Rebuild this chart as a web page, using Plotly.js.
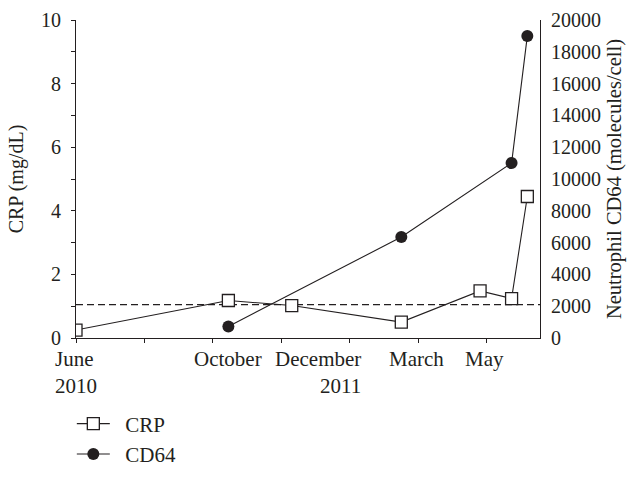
<!DOCTYPE html>
<html><head><meta charset="utf-8">
<script src="https://cdn.plot.ly/plotly-3.0.1.min.js"></script>
<style>html,body{margin:0;padding:0;background:#fff}#chart{width:628px;height:487px}</style>
</head><body><div id="chart"></div>
<script>
// x values: months elapsed since June 2010
const crpMonths = [0, 4.45, 6.3, 9.5, 11.8, 12.72, 13.18];
const crpValues = [0.25, 1.18, 1.02, 0.5, 1.48, 1.24, 4.45];
const cd64Months = [4.45, 9.5, 12.72, 13.18];
const cd64Values = [730, 6350, 11000, 19000];
const crpThreshold = 1.05;
const seriesNames = ['CRP', 'CD64'];
const monthLabels = ['June<br>2010', 'October', 'December<br>2011', 'March', 'May'];
const monthLabelAt = [0, 4.43, 8.37, 9.94, 11.93];
const xTickVals = [0, 2, 4, 6, 8, 10, 12];
const xRange = [0, 13.55];

const INK = '#231f20';
const FONT = 'Liberation Serif, Times New Roman, serif';
const GAP = '\u2002'; // visual gap between legend symbol and text

const traces = [
  {
    name: GAP + seriesNames[0], x: crpMonths, y: crpValues, yaxis: 'y', mode: 'lines+markers',
    line: {color: INK, width: 1.1},
    marker: {symbol: 'square', size: 12, color: '#ffffff', line: {color: INK, width: 1.3}}
  },
  {
    name: GAP + seriesNames[1], x: cd64Months, y: cd64Values, yaxis: 'y2', mode: 'lines+markers',
    line: {color: INK, width: 1.1},
    marker: {symbol: 'circle', size: 12, color: INK}
  }
];

const annotations = monthLabels.map((t, i) => ({
  text: t, x: monthLabelAt[i], xref: 'x', y: 0, yref: 'paper',
  xanchor: (t.indexOf('December') === 0 ? 'right' : 'center'),
  align: (t.indexOf('December') === 0 ? 'right' : 'left'),
  yanchor: 'top', yshift: -7, showarrow: false,
  font: {family: FONT, size: 21, color: INK}
}));

const layout = {
  width: 628, height: 487,
  margin: {l: 76, r: 88, t: 20, b: 125},
  paper_bgcolor: '#fff', plot_bgcolor: '#fff',
  font: {family: FONT, size: 20, color: INK},
  showlegend: true,
  legend: {x: -0.009, xanchor: 'left', y: -0.206, yanchor: 'top', itemwidth: 33,
           font: {family: FONT, size: 21, color: INK}, bgcolor: 'rgba(0,0,0,0)'},
  xaxis: {range: xRange, tickvals: xTickVals, showticklabels: false, ticks: 'outside',
          ticklen: 4, tickcolor: INK, showline: true, linecolor: INK, linewidth: 1,
          showgrid: false, zeroline: false, fixedrange: true},
  yaxis: {range: [0, 10], dtick: 2, ticks: 'outside', ticklen: 4, tickcolor: INK,
          minor: {dtick: 1, ticks: 'outside', ticklen: 4, tickcolor: INK, showgrid: false},
          showline: true, linecolor: INK, linewidth: 1, showgrid: false, zeroline: false,
          ticklabelstandoff: 6,
          title: {text: 'CRP (mg/dL)', standoff: 12, font: {family: FONT, size: 20, color: INK}}},
  yaxis2: {range: [0, 20000], overlaying: 'y', side: 'right', dtick: 2000, ticks: '',
           tickformat: 'd',
           showline: true, linecolor: INK, linewidth: 1, showgrid: false, zeroline: false,
           ticklabelstandoff: 6,
           title: {text: 'Neutrophil CD64 (molecules/cell)', standoff: 6,
                   font: {family: FONT, size: 20.5, color: INK}}},
  yaxis3: {range: [0, 20000], overlaying: 'y', side: 'right', anchor: 'x', dtick: 4000,
           ticks: 'outside', ticklen: 4, tickcolor: INK, showticklabels: false,
           showline: false, showgrid: false, zeroline: false},
  shapes: [{type: 'line', xref: 'paper', x0: 0, x1: 1, yref: 'y', y0: crpThreshold, y1: crpThreshold,
            layer: 'below', line: {color: INK, width: 1.2, dash: '7px,4px'}}],
  annotations: annotations
};

Plotly.newPlot('chart', traces, layout, {staticPlot: true, displayModeBar: false});
</script>
</body></html>
